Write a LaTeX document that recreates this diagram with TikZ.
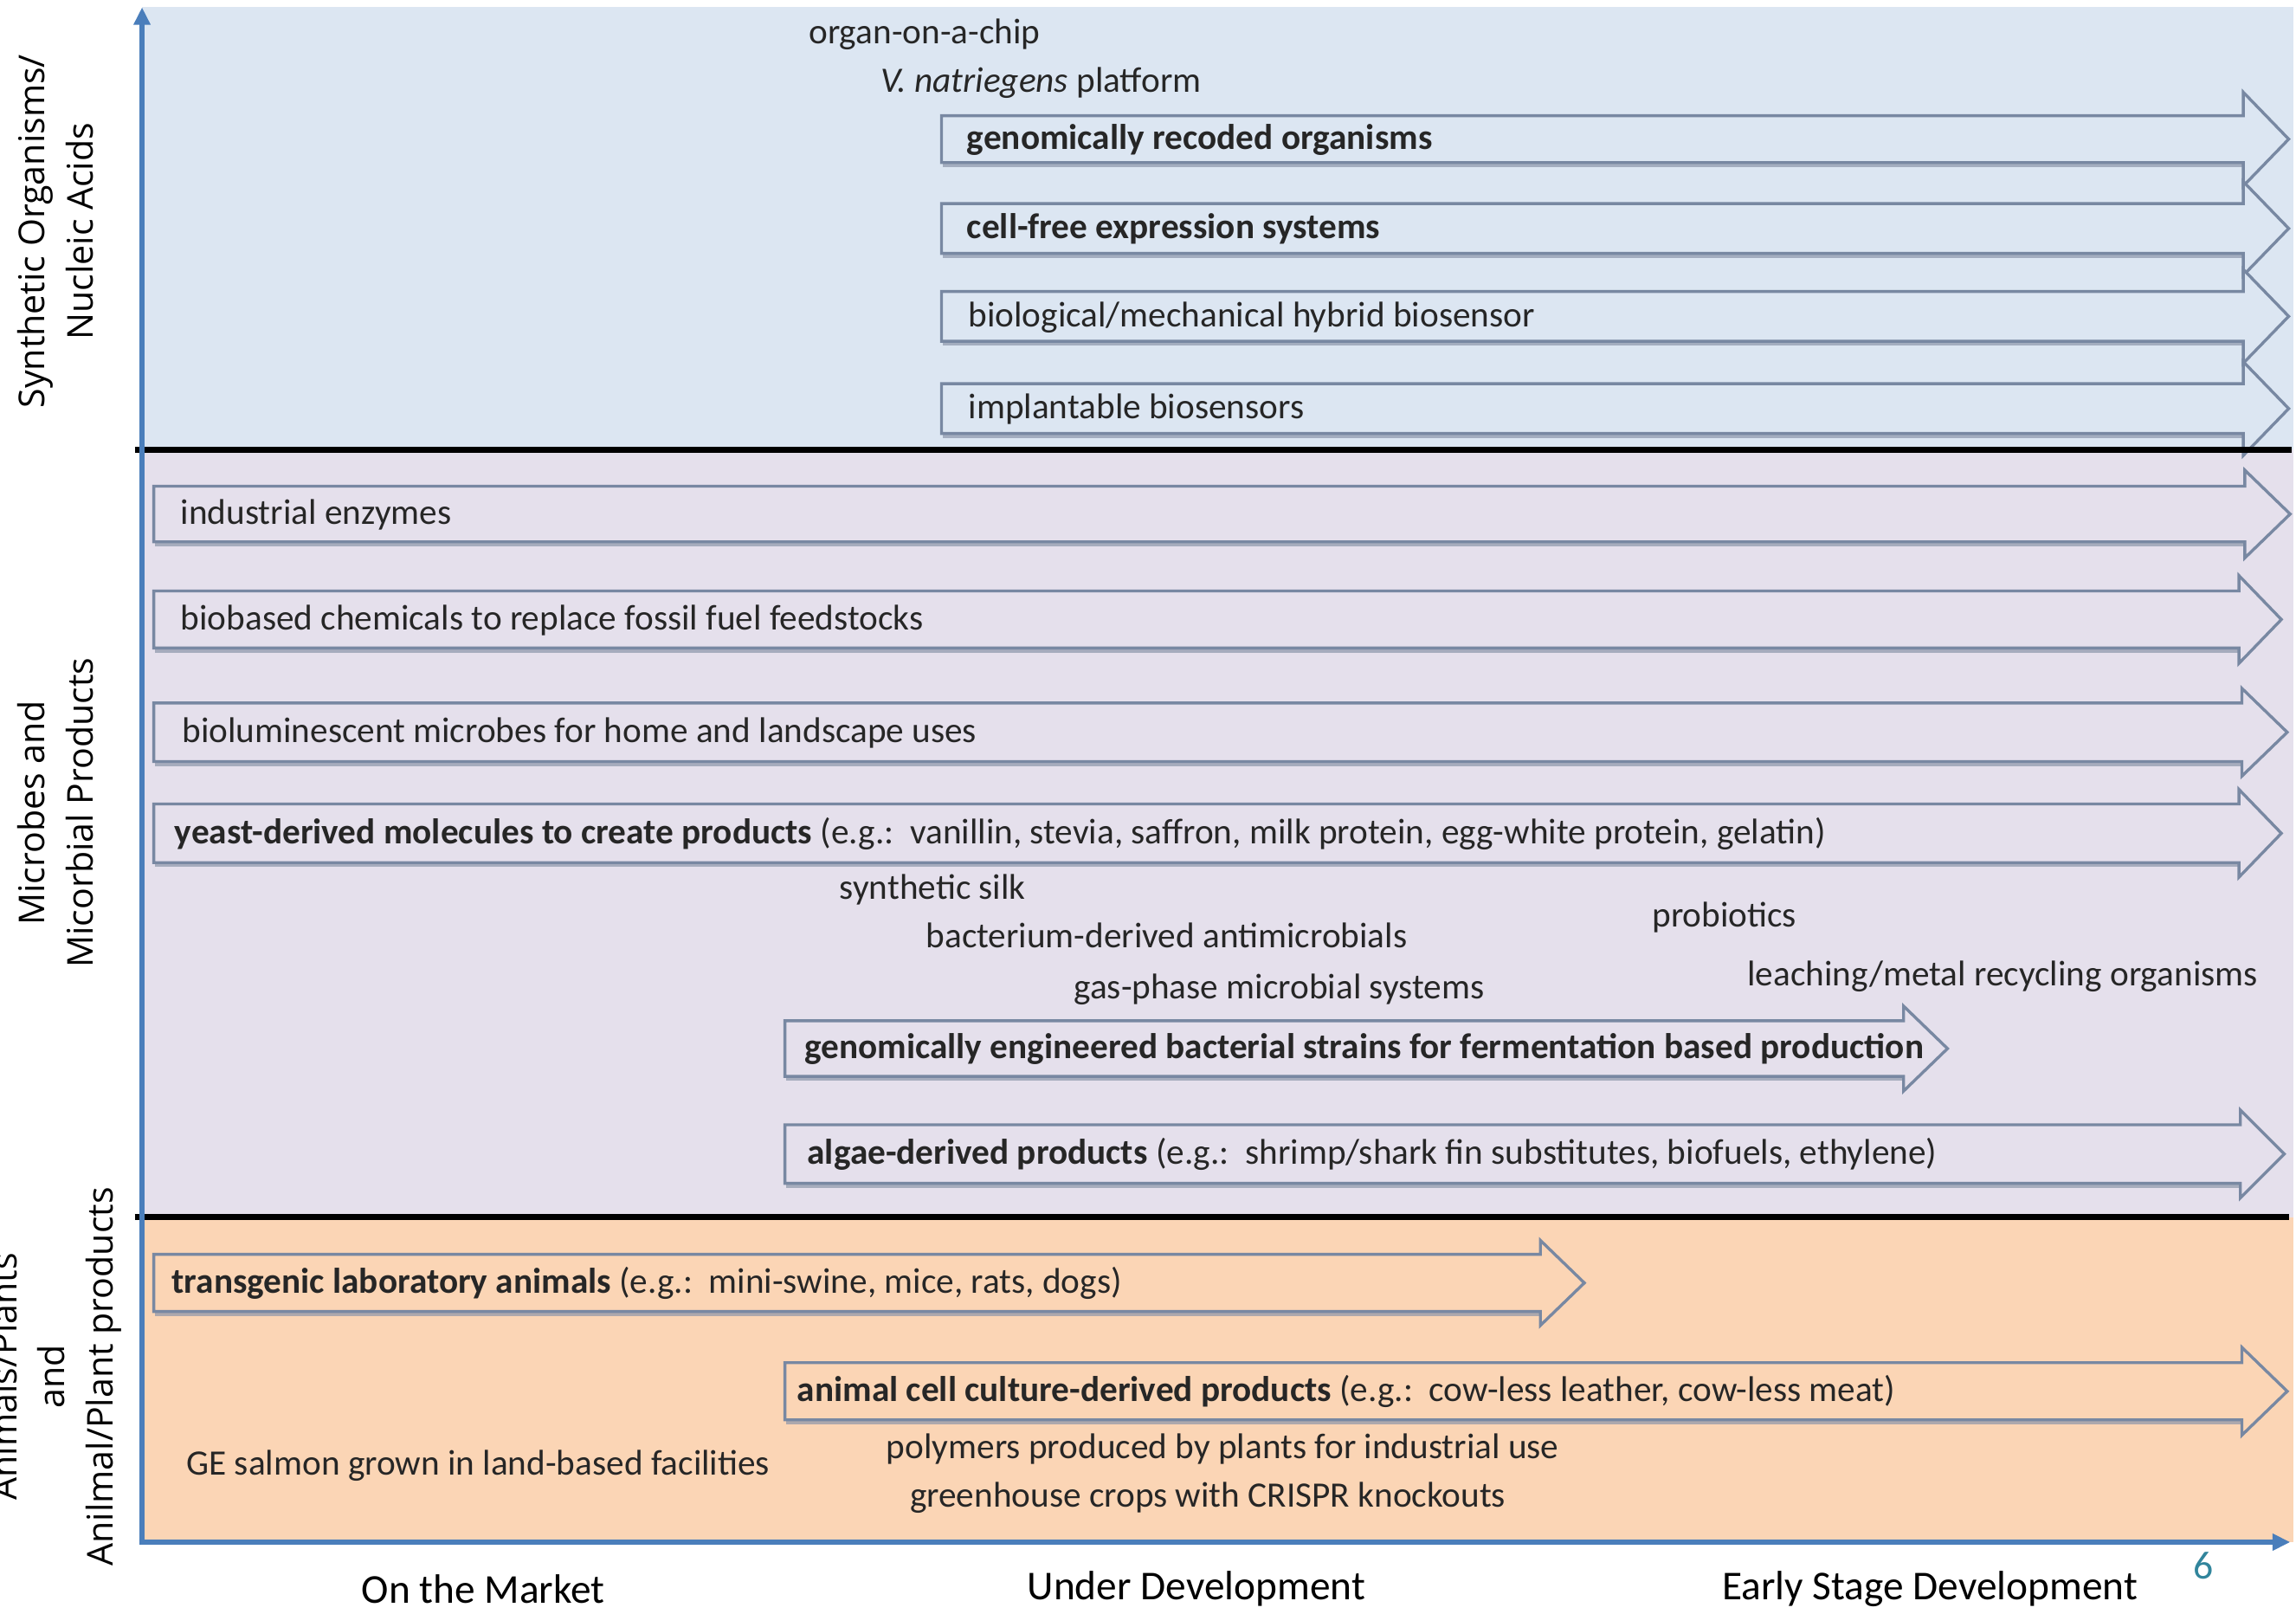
\documentclass[tikz,border=0pt]{standalone}
\usepackage{fontspec}
\setmainfont{Carlito}
\newfontfamily\bandfont{Open Sans}
\usetikzlibrary{arrows.meta}
\definecolor{bandA}{RGB}{220,230,242}
\definecolor{bandB}{RGB}{229,224,236}
\definecolor{bandC}{RGB}{251,213,181}
\definecolor{axisblue}{RGB}{74,126,187}
\definecolor{arrline}{RGB}{120,136,162}
\definecolor{arrshadow}{RGB}{140,150,170}
\definecolor{pagenum}{RGB}{49,133,156}
\definecolor{txt}{RGB}{38,38,38}
\tikzset{
  arrshape/.style={draw=arrline, line width=1pt, line join=miter},
  shadowshape/.style={draw=arrshadow, line width=1.6pt, opacity=0.7},
  lbl/.style={anchor=west, inner sep=0pt, text=txt, text height=0.8em, text depth=0.1em,
    font=\fontsize{12.2}{14}\selectfont},
  axislbl/.style={anchor=center, inner sep=0pt, text=black, font=\fontsize{14}{16}\selectfont},
  bandlbl/.style={anchor=center, inner sep=0pt, rotate=90, align=center, text=black,
    font=\bandfont\fontsize{12.15}{16.5}\selectfont},
  sepline/.style={line width=2pt, black},
  axisline/.style={line width=1.8pt, axisblue, -{Triangle[length=6pt,width=5.5pt]}},
}
% #1 x0, #2 head base x, #3 tip x, #4 centre y, #5 shaft half, #6 head half, #7 fill
\newcommand\bigarrow[7]{%
  \draw[shadowshape] (#1+1,#4+#5+1.5) -- (#2+1,#4+#5+1.5);
  \draw[arrshape, fill=#7] (#1,#4-#5) -- (#2,#4-#5) -- (#2,#4-#6) -- (#3,#4)
     -- (#2,#4+#6) -- (#2,#4+#5) -- (#1,#4+#5) -- cycle;}
\begin{document}
\begin{tikzpicture}[x=0.5pt, y=-0.5pt]
\useasboundingbox (0,0) rectangle (1568,1102);
% bands
\fill[bandA] (97,5) rectangle (1566,307);
\fill[bandB] (97,307) rectangle (1566,831);
\fill[bandC] (97,831) rectangle (1566,1053);

% band labels
\node[bandlbl] (bandA) at (38,158) {Synthetic Organisms/\\Nucleic Acids};
\node[bandlbl] (bandB) at (38,555) {Microbes and\\Micorbial Products};
\node[bandlbl] (bandC) at (38,940) {Animals/Plants\\and\\Anilmal/Plant products};

% top band
\node[lbl] (organ) at (552,23) {organ-on-a-chip};
\node[lbl] (vnat) at (601,56) {\textit{V. natriegens} platform};
\bigarrow{643}{1532}{1563}{95}{16}{32}{bandA}
\node[lbl] (gro) at (660,95) {\textbf{genomically recoded organisms}};
\bigarrow{643}{1532}{1563}{156}{17}{32}{bandA}
\node[lbl] (cfe) at (660,156) {\textbf{cell-free expression systems}};
\bigarrow{643}{1532}{1563}{216}{17}{32}{bandA}
\node[lbl] (bmh) at (661,216) {biological/mechanical hybrid biosensor};
\bigarrow{643}{1532}{1563}{279}{17}{32}{bandA}
\node[lbl] (imp) at (661,279) {implantable biosensors};

% middle band
\bigarrow{105}{1533}{1564}{351}{19}{30}{bandB}
\node[lbl] (ind) at (123,351) {industrial enzymes};
\bigarrow{105}{1529}{1558}{423}{19.5}{30}{bandB}
\node[lbl] (bbc) at (123,423) {biobased chemicals to replace fossil fuel feedstocks};
\bigarrow{105}{1531}{1562}{500}{20}{30}{bandB}
\node[lbl] (blm) at (124,500) {bioluminescent microbes for home and landscape uses};
\bigarrow{105}{1529}{1558}{569}{20}{30}{bandB}
\node[lbl] (yst) at (119,569) {\textbf{yeast-derived molecules to create products} (e.g.:\ \ vanillin, stevia, saffron, milk protein, egg-white protein, gelatin)};
\node[lbl] (silk) at (573,607) {synthetic silk};
\node[lbl] (bda) at (632,640) {bacterium-derived antimicrobials};
\node[lbl] (gas) at (733,675) {gas-phase microbial systems};
\node[lbl] (prob) at (1128,626) {probiotics};
\node[lbl] (leach) at (1193,666) {leaching/metal recycling organisms};
\bigarrow{536}{1300}{1330}{716}{19}{29}{bandB}
\node[lbl] (geb) at (549,716) {\textbf{genomically engineered bacterial strains for fermentation based production}};
\bigarrow{536}{1530}{1560}{788}{20}{30}{bandB}
\node[lbl] (alg) at (551,788) {\textbf{algae-derived products} (e.g.:\ \ shrimp/shark fin substitutes, biofuels, ethylene)};

% bottom band
\bigarrow{105}{1052}{1082}{876}{19.5}{29}{bandC}
\node[lbl] (tla) at (117,876) {\textbf{transgenic laboratory animals} (e.g.:\ \ mini-swine, mice, rats, dogs)};
\bigarrow{536}{1531}{1562}{950}{19.5}{30}{bandC}
\node[lbl] (acc) at (544,950) {\textbf{animal cell culture-derived products} (e.g.:\ \ cow-less leather, cow-less meat)};
\node[lbl] (sal) at (127,1000) {GE salmon grown in land-based facilities};
\node[lbl] (poly) at (605,989) {polymers produced by plants for industrial use};
\node[lbl] (crispr) at (621,1022) {greenhouse crops with CRISPR knockouts};

% separators
\draw[sepline] (92,307) -- (1565,307);
\draw[sepline] (92,831) -- (1563,831);

% axes
\coordinate (origin) at (97,1055);
\coordinate (ytop) at (97,5);
\coordinate (xorigin) at (95,1053);
\coordinate (xend) at (1564,1053);
\draw[axisline] (origin) -- (ytop);
\draw[axisline] (xorigin) -- (xend);

% axis labels
\node[axislbl] (mkt) at (330,1085) {On the Market};
\node[axislbl] (dev) at (817,1085) {Under Development};
\node[axislbl] (early) at (1318,1085) {Early Stage Development};
\node[anchor=center, inner sep=0pt, text=pagenum, font=\fontsize{13.5}{15}\selectfont] (pg) at (1505,1069) {6};
\end{tikzpicture}
\end{document}
